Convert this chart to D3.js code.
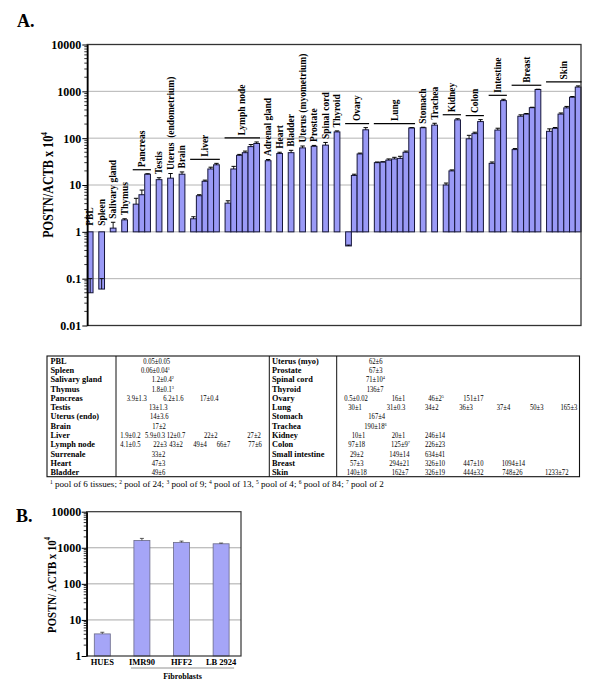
<!DOCTYPE html>
<html><head><meta charset="utf-8">
<script src="https://cdn.jsdelivr.net/npm/d3@7"></script>
<style>
body{margin:0;background:#fff}
svg{display:block}
text{font-family:"Liberation Serif","Times New Roman",serif;white-space:pre}
</style>
</head><body>
<svg id="c" width="600" height="684"></svg>
<script>
// ---------- DATA: panel A ----------
const tissueNames = ["PBL","Spleen","Salivary gland","Thymus","Pancreas","Testis","Uterus  (endometrium)","Brain","Liver","Lymph node","Adrenal gland","Heart","Bladder","Uterus (myometrium)","Prostate","Spinal cord","Thyroid","Ovary","Lung","Stomach","Trachea","Kidney","Colon","Intestine","Breast","Skin"];
const tissueValues = [[0.05],[0.06],[1.2],[1.8],[3.9,6.2,17],[13],[14],[17],[1.9,5.9,12,22,27],[4.1,22,43,49,66,77],[33],[47],[49],[62],[67],[71],[136],[0.5,16,46,151],[30,31,34,36,37,50,165],[167],[190],[10,20,246],[97,125,226],[29,149,634],[57,294,326,447,1094],[140,162,326,444,748,1233]];
const tissueErrors = [[0.05],[0.04],[0.4],[0.1],[1.3,1.6,0.4],[1.3],[3.6],[2],[0.2,0.3,0.7,2,2],[0.5,3,2,4,7,6],[2],[3],[6],[6],[3],[10],[7],[0.02,1,2,17],[1,0.3,2,3,4,3,3],[4],[18],[1,1,14],[18,9,23],[2,14,41],[3,21,10,10,14],[18,7,19,32,26,72]];
const yTicksA = [0.01,0.1,1,10,100,1000,10000];
const yTickLabelsA = ["0.01","0.1","1","10","100","1000","10000"];
const yTitle = "POSTN/ACTB x 10";
const yTitleB = "POSTN/ ACTB x 10";

// ---------- DATA: panel B ----------
const cellNames = ["HUES","IMR90","HFF2","LB 2924"];
const cellValues = [4.1,1600,1410,1290];
const cellErrors = [0.45,220,120,60];
const yTicksB = [1,10,100,1000,10000];
const yTickLabelsB = ["1","10","100","1000","10000"];
const fibroblastGroup = ["IMR90","LB 2924"];

// ---------- DATA: table ----------
const tableLeftNames = ["PBL","Spleen","Salivary gland","Thymus","Pancreas","Testis","Uterus (endo)","Brain","Liver","Lymph node","Surrenale","Heart","Bladder"];
const tableLeftValues = [["0.05±0.05"],["0.06±0.04^1"],["1.2±0.4^2"],["1.8±0.1^3"],["3.9±1.3","6.2±1.6","17±0.4"],["13±1.3"],["14±3.6"],["17±2"],["1.9±0.2","5.9±0.3","12±0.7","22±2","27±2"],["4.1±0.5","22±3","43±2","49±4","66±7","77±6"],["33±2"],["47±3"],["49±6"]];
const tableRightNames = ["Uterus (myo)","Prostate","Spinal cord","Thyroid","Ovary","Lung","Stomach","Trachea","Kidney","Colon","Small intestine","Breast","Skin"];
const tableRightValues = [["62±6"],["67±3"],["71±10^4"],["136±7"],["0.5±0.02","16±1","46±2^5","151±17"],["30±1","31±0.3","34±2","36±3","37±4","50±3","165±3"],["167±4"],["190±18^6"],["10±1","20±1","246±14"],["97±18","125±9^7","226±23"],["29±2","149±14","634±41"],["57±3","294±21","326±10","447±10","1094±14"],["140±18","162±7","326±19","444±32","748±26","1233±72"]];
const footnote = "^1 pool of 6 tissues; ^2 pool of 24; ^3 pool of 9; ^4 pool of 13, ^5 pool of 4; ^6 pool of 84; ^7 pool of 2";

// ---------- LAYOUT (table text stops) ----------
const leftStops = [[143.3],[141],[151.7],[151.7],[126.7,163.3,200],[149],[150],[152.3],[120.3,145,166.7,204,247.3],[120.3,153.3,169.3,193.3,216.7,248.3],[151.7],[151.7],[151.7]];
const rightStops = [[369],[369],[366],[366.7],[344.3,391.7,428.3,463.3],[348.3,386.7,425,459.3,496.7,530,560.5],[368.3],[364.3],[351.7,391.7,425],[348.3,391,425],[350,389.3,425],[350,389.3,425,463.3,501.7],[346.7,391.7,425,463.3,502.3,545]];

const svg = d3.select("#c");
svg.append("rect").attr("width",600).attr("height",684).attr("fill","#fff");

function rich(sel, str, supSize){
  const parts = str.split(/\^(\d)/);
  let up = false;
  parts.forEach((p,i)=>{
    if(i%2===1){ sel.append("tspan").attr("dy",-3).attr("font-size",supSize).text(p); up=true; }
    else if(p.length){ const t = sel.append("tspan").text(p); if(up){ t.attr("dy",3); up=false; } }
  });
}

// =============== PANEL A ===============
const A = {l:87.3, r:581, t:44.5, b:325.5};
const yA = d3.scaleLog().domain([0.01,10000]).range([A.b,A.t]);
const slotKeys = [];
const bars = [];
tissueNames.forEach((n,gi)=>{
  tissueValues[gi].forEach((v,i)=>{
    const k = gi+"-"+i; slotKeys.push(k);
    bars.push({k, v, e:tissueErrors[gi][i], g:gi});
  });
  if(gi < tissueNames.length-1) slotKeys.push("gap-"+gi);
});
const xA = d3.scaleBand().domain(slotKeys).range([A.l,A.r]).padding(0);
const bw = xA.bandwidth();

svg.append("text").attr("x",17).attr("y",27).attr("font-size",18).attr("font-weight","bold").text("A.");

const gA = svg.append("g");
gA.selectAll("line.grid").data([0.1,1,10,100,1000]).join("line")
  .attr("x1",A.l).attr("x2",A.r).attr("y1",d=>yA(d)).attr("y2",d=>yA(d))
  .attr("stroke","#b4b4b4").attr("stroke-width",1);

gA.selectAll("rect.bar").data(bars).join("rect")
  .attr("x",d=>xA(d.k)).attr("width",bw)
  .attr("y",d=>Math.min(yA(d.v),yA(1)))
  .attr("height",d=>Math.abs(yA(d.v)-yA(1)))
  .attr("fill","#9a9af6").attr("stroke","#15153a").attr("stroke-width",1);

const eb = gA.selectAll("g.err").data(bars).join("g");
eb.append("line").attr("x1",d=>xA(d.k)+bw/2).attr("x2",d=>xA(d.k)+bw/2)
  .attr("y1",d=>yA(d.v)).attr("y2",d=>yA(d.v+d.e)).attr("stroke","#000").attr("stroke-width",0.9);
eb.append("line").attr("x1",d=>xA(d.k)+bw/2-2.2).attr("x2",d=>xA(d.k)+bw/2+2.2)
  .attr("y1",d=>yA(d.v+d.e)).attr("y2",d=>yA(d.v+d.e)).attr("stroke","#000").attr("stroke-width",1);

gA.append("rect").attr("x",A.l).attr("y",A.t).attr("width",A.r-A.l).attr("height",A.b-A.t)
  .attr("fill","none").attr("stroke","#333").attr("stroke-width",1.3);

const axA = d3.axisLeft(yA).tickValues(yTicksA).tickFormat((d,i)=>yTickLabelsA[i]).tickSize(5).tickSizeOuter(0).tickPadding(1);
const gAx = gA.append("g").attr("transform",`translate(${A.l},0)`).call(axA);
gAx.select(".domain").attr("stroke","#000").attr("stroke-width",1.6);
gAx.selectAll(".tick line").attr("stroke","#000");
gAx.selectAll(".tick text").attr("font-family","Liberation Serif").attr("font-weight","bold").attr("font-size",12).attr("fill","#000");
const minorA = [];
[0.01,0.1,1,10,100,1000].forEach(d=>{ for(let k=2;k<10;k++) minorA.push(d*k); });
gA.selectAll("line.minor").data(minorA).join("line")
  .attr("x1",A.l-3).attr("x2",A.l).attr("y1",d=>yA(d)).attr("y2",d=>yA(d)).attr("stroke","#000").attr("stroke-width",0.8);

const tA = svg.append("text").attr("transform",`translate(52.5,185) rotate(-90) scale(0.84,1)`).attr("text-anchor","middle")
  .attr("font-size",14.5).attr("font-weight","bold");
tA.append("tspan").text(yTitle);
tA.append("tspan").attr("dy",-6).attr("font-size",8.5).text("4");

const lblSize = 9.5;
tissueNames.forEach((n,gi)=>{
  const vals = tissueValues[gi], errs = tissueErrors[gi];
  const top = Math.max(1, d3.max(vals.map((v,i)=>v+errs[i])));
  const x0 = xA(gi+"-0"), x1 = xA(gi+"-"+(vals.length-1))+bw;
  const cx = (x0+x1)/2 + 3.1;
  let ly;
  if(vals.length===1){
    ly = yA(top) - (top===1 ? 6 : 3.5);
  } else {
    const lineY = yA(top) - 4;
    gA.append("line").attr("x1",x0-0.5).attr("x2",x1+0.5).attr("y1",lineY).attr("y2",lineY)
      .attr("stroke","#000").attr("stroke-width",1.2);
    ly = lineY - 2.5;
  }
  gA.append("text").attr("transform",`translate(${cx},${ly}) rotate(-90)`)
    .attr("font-size",lblSize).attr("font-weight","bold").text(n);
});

// =============== TABLE ===============
const T = {l:47, r:579.5, t:356, b:476.7, divs:[116,269.3,336.7], row0:363.8, rowH:9.28};
const gT = svg.append("g");
gT.append("rect").attr("x",T.l).attr("y",T.t).attr("width",T.r-T.l).attr("height",T.b-T.t)
  .attr("fill","none").attr("stroke","#111").attr("stroke-width",1.1);
gT.selectAll("line.div").data(T.divs).join("line")
  .attr("x1",d=>d).attr("x2",d=>d).attr("y1",T.t).attr("y2",T.b).attr("stroke","#111").attr("stroke-width",1);
function drawCol(names, vals, stops, nameX){
  names.forEach((n,i)=>{
    const y = T.row0 + i*T.rowH;
    gT.append("text").attr("x",nameX).attr("y",y).attr("font-size",8.3).attr("font-weight","bold").text(n);
    vals[i].forEach((s,j)=>{
      const t = gT.append("text").attr("transform",`translate(${stops[i][j]},${y}) scale(0.86,1)`).attr("font-size",7.7);
      rich(t, s, 5);
    });
  });
}
drawCol(tableLeftNames, tableLeftValues, leftStops, 50.5);
drawCol(tableRightNames, tableRightValues, rightStops, 272);
const fn = svg.append("text").attr("x",50).attr("y",486.5).attr("font-size",9.1);
rich(fn, footnote, 5.5);

// =============== PANEL B ===============
const B = {l:86.7, r:241, t:511.7, b:656};
const yB = d3.scaleLog().domain([1,10000]).range([B.b,B.t]);
const xB = d3.scaleBand().domain(cellNames).range([B.l,B.r]).paddingInner(0.596).paddingOuter(0.246).align(0.39);
svg.append("text").attr("x",16).attr("y",522).attr("font-size",18).attr("font-weight","bold").text("B.");
const gB = svg.append("g");
gB.selectAll("line.grid").data([10,100,1000]).join("line")
  .attr("x1",B.l).attr("x2",B.r).attr("y1",d=>yB(d)).attr("y2",d=>yB(d)).attr("stroke","#a8a8a8").attr("stroke-width",1);
const bB = cellNames.map((n,i)=>({n, v:cellValues[i], e:cellErrors[i]}));
gB.selectAll("rect.bar").data(bB).join("rect")
  .attr("x",d=>xB(d.n)).attr("width",xB.bandwidth())
  .attr("y",d=>yB(d.v)).attr("height",d=>yB(1)-yB(d.v))
  .attr("fill","#a5a5f7").attr("stroke","#6a6a88").attr("stroke-width",0.8);
const ebB = gB.selectAll("g.err").data(bB).join("g");
ebB.append("line").attr("x1",d=>xB(d.n)+xB.bandwidth()/2).attr("x2",d=>xB(d.n)+xB.bandwidth()/2)
  .attr("y1",d=>yB(d.v)).attr("y2",d=>yB(d.v+d.e)).attr("stroke","#333").attr("stroke-width",0.8);
ebB.append("line").attr("x1",d=>xB(d.n)+xB.bandwidth()/2-2).attr("x2",d=>xB(d.n)+xB.bandwidth()/2+2)
  .attr("y1",d=>yB(d.v+d.e)).attr("y2",d=>yB(d.v+d.e)).attr("stroke","#333").attr("stroke-width",0.8);
gB.append("rect").attr("x",B.l).attr("y",B.t).attr("width",B.r-B.l).attr("height",B.b-B.t)
  .attr("fill","none").attr("stroke","#333").attr("stroke-width",1.2);
const axB = d3.axisLeft(yB).tickValues(yTicksB).tickFormat((d,i)=>yTickLabelsB[i]).tickSize(5).tickSizeOuter(0).tickPadding(0.5);
const gBx = gB.append("g").attr("transform",`translate(${B.l},0)`).call(axB);
gBx.select(".domain").attr("stroke","#000").attr("stroke-width",1.5);
gBx.selectAll(".tick line").attr("stroke","#000");
gBx.selectAll(".tick text").attr("font-family","Liberation Serif").attr("font-weight","bold").attr("font-size",12).attr("fill","#000");
const minorB = [];
[1,10,100,1000].forEach(d=>{ for(let k=2;k<10;k++) minorB.push(d*k); });
gB.selectAll("line.minor").data(minorB).join("line")
  .attr("x1",B.l-3).attr("x2",B.l).attr("y1",d=>yB(d)).attr("y2",d=>yB(d)).attr("stroke","#000").attr("stroke-width",0.8);
gB.selectAll("text.xl").data(cellNames).join("text")
  .attr("x",d=>xB(d)+xB.bandwidth()/2).attr("y",664.5).attr("text-anchor","middle")
  .attr("font-size",8.5).attr("font-weight","bold").text(d=>d);
const fx0 = xB(fibroblastGroup[0])-3, fx1 = xB(fibroblastGroup[1])+xB.bandwidth()+5;
gB.append("line").attr("x1",fx0).attr("x2",fx1).attr("y1",668).attr("y2",668).attr("stroke","#777").attr("stroke-width",0.8);
gB.append("text").attr("x",(fx0+fx1)/2).attr("y",678.5).attr("text-anchor","middle")
  .attr("font-size",8).attr("font-weight","bold").text("Fibroblasts");
const tB = svg.append("text").attr("transform",`translate(55.5,585) rotate(-90) scale(0.8,1)`).attr("text-anchor","middle")
  .attr("font-size",13.5).attr("font-weight","bold");
tB.append("tspan").text(yTitleB);
tB.append("tspan").attr("dy",-5.5).attr("font-size",8).text("4");
</script>
</body></html>
